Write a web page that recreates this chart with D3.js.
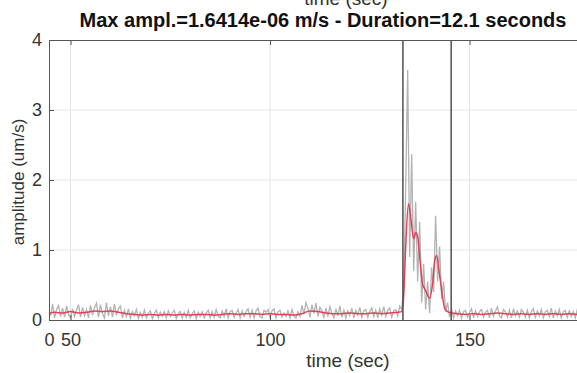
<!DOCTYPE html>
<html>
<head>
<meta charset="utf-8">
<script src="https://cdn.jsdelivr.net/npm/d3@7"></script>
<style>
  html, body { margin: 0; padding: 0; background: #fff; overflow: hidden; }
  svg { display: block; font-family: "Liberation Sans", Arial, Helvetica, sans-serif; }
</style>
</head>
<body>
<svg id="chart" width="577" height="373"></svg>
<script>
// Raw ground-velocity amplitude (um/s), sampled every 0.5 s starting at t = 44 s
const rawStart = 44;
const rawStep = 0.5;
const rawAmp = [
  0.04,0.19,0.06,0.23,0.03,0.15,0.21,0.05,0.17,0.04,0.20,0.08,0.03,0.16,0.05,0.14,0.22,0.04,0.18,0.06,
  0.15,0.03,0.21,0.07,0.17,0.24,0.04,0.22,0.09,0.03,0.25,0.06,0.19,0.04,0.23,0.07,0.16,0.20,0.03,0.14,
  0.05,0.16,0.03,0.12,0.06,0.15,0.02,0.11,0.04,0.14,0.03,0.10,0.13,0.02,0.09,0.14,0.03,0.11,0.05,0.12,
  0.03,0.13,0.05,0.10,0.14,0.02,0.09,0.12,0.03,0.11,0.04,0.14,0.03,0.09,0.13,0.02,0.11,0.05,0.12,0.03,
  0.10,0.14,0.03,0.12,0.04,0.15,0.06,0.03,0.13,0.05,0.16,0.03,0.12,0.14,0.04,0.10,0.15,0.03,0.13,0.05,
  0.12,0.16,0.04,0.14,0.03,0.13,0.17,0.05,0.03,0.14,0.11,0.15,0.04,0.13,0.16,0.03,0.12,0.14,0.04,0.10,
  0.05,0.13,0.03,0.15,0.06,0.03,0.12,0.05,0.21,0.08,0.25,0.17,0.04,0.22,0.09,0.24,0.05,0.18,0.13,0.04,
  0.17,0.05,0.19,0.10,0.03,0.16,0.06,0.20,0.04,0.14,0.03,0.13,0.06,0.17,0.03,0.14,0.07,0.18,0.04,0.13,
  0.15,0.04,0.12,0.17,0.05,0.14,0.03,0.16,0.07,0.19,0.05,0.14,0.17,0.04,0.13,0.15,0.06,0.20,0.15,0.45,
  1.90,3.57,0.90,2.37,0.70,1.69,0.55,1.40,0.25,0.80,0.15,0.55,0.10,0.75,0.40,1.49,0.55,1.05,0.30,0.55,
  0.12,0.25,0.04,0.15,0.03,0.13,0.06,0.14,0.03,0.12,0.14,0.04,0.10,0.16,0.03,0.13,0.05,0.12,0.15,0.04,
  0.11,0.14,0.03,0.17,0.05,0.13,0.19,0.06,0.03,0.15,0.12,0.04,0.14,0.03,0.16,0.06,0.13,0.04,0.15,0.11,
  0.04,0.14,0.03,0.12,0.16,0.04,0.13,0.06,0.15,0.03,0.12,0.14,0.05,0.17,0.03,0.13,0.06,0.15,0.03,0.12,
  0.14,0.04,0.13,0.05,0.12,0.03,0.15,0.06,0.13
];

// Smoothed envelope (um/s)
const envTime = [
  44,46,48,50,52,54,56,58,60,62,64,66,68,70,72,74,76,78,80,82,84,86,88,90,92,94,96,98,100,
  102,104,106,108,110,112,114,116,118,120,122,124,126,128,130,132,133,133.5,134,134.7,135.3,
  136,136.5,137,137.6,138.2,139,140,140.8,141.3,141.75,142.5,143.2,143.75,144.5,145.5,147,149,
  151,153,155,157,159,161,163,165,167,169,171,173,175,177,178
];
const envAmp = [
  0.09,0.11,0.10,0.12,0.10,0.11,0.13,0.12,0.13,0.11,0.09,0.08,0.07,0.08,0.07,0.08,0.07,0.08,0.07,0.08,
  0.08,0.07,0.08,0.09,0.08,0.09,0.09,0.08,0.09,0.08,0.08,0.07,0.09,0.13,0.12,0.10,0.09,0.09,0.10,0.09,
  0.09,0.10,0.09,0.10,0.11,0.12,0.35,1.05,1.66,1.45,1.16,1.25,1.19,0.85,0.52,0.42,0.31,0.55,0.85,0.92,
  0.64,0.35,0.17,0.12,0.10,0.09,0.08,0.09,0.08,0.09,0.10,0.09,0.08,0.09,0.08,0.09,0.08,0.09,0.08,0.09,
  0.08,0.08
];

// Event window picked on the envelope (s)
const windowBounds = [133.3, 145.4];

const xTicks = [50, 100, 150];
const yTicks = [0, 1, 2, 3, 4];
const titleText = "Max ampl.=1.6414e-06 m/s - Duration=12.1 seconds";
const xLabel = "time (sec)";
const yLabel = "amplitude (um/s)";

const svg = d3.select("#chart");
const plotLeft = 49, plotTop = 40, plotBottom = 320, plotRight = 600;
const xStart = 44.6;

const x = d3.scaleLinear().domain([xStart, 182.7]).range([plotLeft, plotRight]);
const y = d3.scaleLinear().domain([0, 4]).range([plotBottom, plotTop]);

const raw = rawAmp.map((v, i) => ({ t: rawStart + i * rawStep, v })).filter(d => d.t >= xStart);
const env = envTime.map((t, i) => ({ t, v: envAmp[i] }));

// grid
const grid = svg.append("g");
grid.selectAll("line.gx").data(xTicks).join("line")
  .attr("x1", d => x(d)).attr("x2", d => x(d))
  .attr("y1", plotTop).attr("y2", plotBottom)
  .attr("stroke", "#e6e6e6").attr("stroke-width", 1);
grid.selectAll("line.gy").data(yTicks.filter(d => d > 0 && d < 4)).join("line")
  .attr("x1", plotLeft).attr("x2", plotRight)
  .attr("y1", d => y(d)).attr("y2", d => y(d))
  .attr("stroke", "#e6e6e6").attr("stroke-width", 1);

// traces
svg.append("path").datum(raw)
  .attr("fill", "none").attr("stroke", "#b3b3b3").attr("stroke-width", 1.3)
  .attr("d", d3.line().x(d => x(d.t)).y(d => y(d.v)));

svg.append("path").datum(env.filter(d => d.t >= xStart - 1))
  .attr("fill", "none").attr("stroke", "#e4405a").attr("stroke-width", 1.5)
  .attr("d", d3.line().curve(d3.curveMonotoneX).x(d => x(Math.max(d.t, xStart))).y(d => y(d.v)));

// event window markers
svg.selectAll("line.win").data(windowBounds).join("line")
  .attr("x1", d => x(d)).attr("x2", d => x(d))
  .attr("y1", plotTop).attr("y2", plotBottom)
  .attr("stroke", "#505050").attr("stroke-width", 1.5);

// axes
const xAxis = d3.axisBottom(x).tickValues([xStart, ...xTicks])
  .tickFormat(d => d === xStart ? "0" : d).tickSizeInner(-5).tickSizeOuter(0).tickPadding(13);
const gx = svg.append("g").attr("transform", `translate(0,${plotBottom})`).call(xAxis);
const xTop = d3.axisTop(x).tickValues(xTicks).tickSizeInner(-5).tickSizeOuter(0).tickFormat("");
const gxt = svg.append("g").attr("transform", `translate(0,${plotTop})`).call(xTop);
const yAxis = d3.axisLeft(y).tickValues(yTicks).tickFormat(d3.format("d"))
  .tickSizeInner(-5).tickSizeOuter(0).tickPadding(7);
const gy = svg.append("g").attr("transform", `translate(${plotLeft},0)`).call(yAxis);

[gx, gxt, gy].forEach(g => {
  g.select(".domain").attr("stroke", "#555").attr("stroke-width", 1);
  g.selectAll(".tick line").attr("stroke", "#555");
  g.selectAll(".tick text").attr("fill", "#333").style("font-size", "18px");
});

svg.append("text").attr("x", 348).attr("y", 367).attr("text-anchor", "middle")
  .style("font-size", "19px").attr("fill", "#333").text(xLabel);
svg.append("text").attr("x", 346).attr("y", 5).attr("text-anchor", "middle")
  .style("font-size", "19px").attr("fill", "#333").text(xLabel);
svg.append("text").attr("transform", "translate(24,182) rotate(-90)").attr("text-anchor", "middle")
  .style("font-size", "17px").attr("fill", "#333").text(yLabel);
svg.append("text").attr("x", 323).attr("y", 27).attr("text-anchor", "middle")
  .style("font-size", "20px").style("font-weight", "bold").attr("fill", "#111").text(titleText);
</script>
</body>
</html>
